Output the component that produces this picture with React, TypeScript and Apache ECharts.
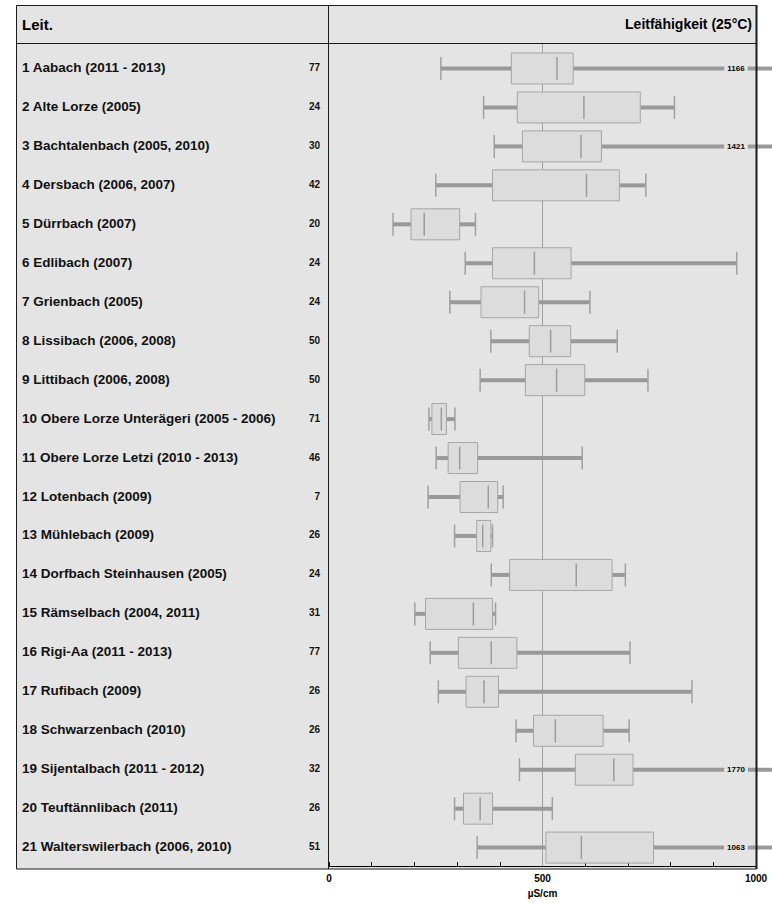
import React, { useEffect, useRef } from "react";
import * as echarts from "echarts";

const categories = [
  "1 Aabach (2011 - 2013)",
  "2 Alte Lorze (2005)",
  "3 Bachtalenbach (2005, 2010)",
  "4 Dersbach (2006, 2007)",
  "5 Dürrbach (2007)",
  "6 Edlibach (2007)",
  "7 Grienbach (2005)",
  "8 Lissibach (2006, 2008)",
  "9 Littibach (2006, 2008)",
  "10 Obere Lorze Unterägeri (2005 - 2006)",
  "11 Obere Lorze Letzi (2010 - 2013)",
  "12 Lotenbach (2009)",
  "13 Mühlebach (2009)",
  "14 Dorfbach Steinhausen (2005)",
  "15 Rämselbach (2004, 2011)",
  "16 Rigi-Aa (2011 - 2013)",
  "17 Rufibach (2009)",
  "18 Schwarzenbach (2010)",
  "19 Sijentalbach (2011 - 2012)",
  "20 Teuftännlibach (2011)",
  "21 Walterswilerbach (2006, 2010)",
];
const counts = [77, 24, 30, 42, 20, 24, 24, 50, 50, 71, 46, 7, 26, 24, 31, 77, 26, 26, 32, 26, 51];
const whiskerLow = [262, 362, 387, 250, 150, 319, 283, 379, 354, 234, 251, 232, 294, 380, 201, 237, 256, 438, 446, 294, 347];
const q1 = [427, 441, 453, 383, 192, 383, 356, 469, 460, 241, 279, 307, 346, 423, 226, 303, 321, 479, 577, 315, 508];
const median = [534, 597, 590, 603, 223, 481, 458, 519, 533, 263, 306, 373, 360, 579, 338, 380, 363, 530, 667, 354, 591];
const q3 = [572, 729, 638, 680, 306, 567, 491, 566, 599, 275, 348, 395, 379, 663, 383, 440, 397, 642, 712, 383, 760];
const whiskerHigh = [1166, 809, 1421, 742, 343, 955, 611, 675, 747, 295, 593, 408, 383, 694, 390, 705, 850, 703, 1770, 523, 1063];

const xTickLabels = [0, 500, 1000];
const referenceValue = [500];
const axisMin = 0;
const axisMax = 1000;
const headerLeft = "Leit.";
const headerRight = "Leitfähigkeit (25°C)";
const unitLabel = "µS/cm";

const FONT = "'Liberation Sans', Arial, Helvetica, sans-serif";
const BG = "#e4e4e4";

export default function App() {
  const ref = useRef<HTMLDivElement>(null);
  useEffect(() => {
    if (!ref.current) return;
    const chart = echarts.init(ref.current, null, { renderer: "svg" });
    const boxData = categories.map((_, i) => [i, whiskerLow[i], q1[i], median[i], q3[i], whiskerHigh[i]]);

    const renderBox = (params: any, api: any) => {
      const idx = api.value(0);
      const lo = api.value(1);
      const a = api.value(2);
      const m = api.value(3);
      const b = api.value(4);
      const hi = api.value(5);
      const y = api.coord([a, idx])[1] + 1;
      const xLo = api.coord([lo, idx])[0];
      const xA = api.coord([a, idx])[0];
      const xM = api.coord([m, idx])[0];
      const xB = api.coord([b, idx])[0];
      const xHi = api.coord([hi, idx])[0];
      const xMax = api.coord([axisMax, idx])[0];
      const boxH = 31;
      const capH = 23;
      const children: any[] = [
        { type: "line", shape: { x1: xLo, y1: y, x2: xA, y2: y }, style: { stroke: "#999999", lineWidth: 4 } },
        { type: "line", shape: { x1: xB, y1: y, x2: xHi, y2: y }, style: { stroke: "#999999", lineWidth: 4 } },
        { type: "line", shape: { x1: xLo, y1: y - capH / 2, x2: xLo, y2: y + capH / 2 }, style: { stroke: "#a0a0a0", lineWidth: 1.5 } },
        {
          type: "rect",
          shape: { x: xA, y: y - boxH / 2, width: xB - xA, height: boxH },
          style: { fill: "#dcdcdc", stroke: "#a6a6a6", lineWidth: 1 },
        },
        { type: "line", shape: { x1: xM, y1: y - capH / 2, x2: xM, y2: y + capH / 2 }, style: { stroke: "#9c9c9c", lineWidth: 1.5 } },
      ];
      if (hi <= axisMax) {
        children.push({ type: "line", shape: { x1: xHi, y1: y - capH / 2, x2: xHi, y2: y + capH / 2 }, style: { stroke: "#a0a0a0", lineWidth: 1.5 } });
      } else {
        children.push({
          type: "text",
          x: xMax - 20,
          y: y,
          style: {
            text: String(hi),
            font: `bold 8px ${FONT}`,
            fill: "#000",
            align: "center",
            verticalAlign: "middle",
            backgroundColor: BG,
            padding: [1, 3],
          },
        });
      }
      return { type: "group", children };
    };

    const renderRef = (params: any, api: any) => {
      const x = api.coord([api.value(0), 0])[0];
      const cs = params.coordSys;
      return {
        type: "line",
        shape: { x1: x, y1: cs.y - 5, x2: x, y2: cs.y + cs.height },
        style: { stroke: "#a0a0a0", lineWidth: 1 },
      };
    };

    chart.setOption({
      animation: false,
      backgroundColor: "#ffffff",
      grid: { left: 329, right: 16, top: 48, bottom: 34, containLabel: false },
      xAxis: {
        type: "value",
        min: axisMin,
        max: axisMax,
        interval: 100,
        name: unitLabel,
        nameLocation: "middle",
        nameGap: 19,
        nameTextStyle: { fontFamily: FONT, fontWeight: "bold", fontSize: 10, color: "#000" },
        axisLine: { show: true, lineStyle: { color: "#000", width: 1 } },
        axisTick: { show: true, inside: true, length: 4, lineStyle: { color: "#000" } },
        splitLine: { show: false },
        axisLabel: {
          margin: 7,
          fontFamily: FONT,
          fontWeight: "bold",
          fontSize: 10,
          color: "#000",
          formatter: (v: number) => (xTickLabels.includes(v) ? String(v) : ""),
        },
      },
      yAxis: [
        {
          type: "category",
          data: categories,
          inverse: true,
          position: "left",
          axisLine: { show: false },
          axisTick: { show: false },
          splitLine: { show: false },
          axisLabel: {
            align: "left",
            margin: 307,
            fontFamily: FONT,
            fontWeight: "bold",
            fontSize: 13.5,
            color: "#111",
            padding: [3, 0, 0, 0],
          },
        },
        {
          type: "category",
          data: categories,
          inverse: true,
          position: "left",
          axisLine: { show: false },
          axisTick: { show: false },
          splitLine: { show: false },
          axisLabel: {
            align: "right",
            margin: 9,
            fontFamily: FONT,
            fontWeight: "bold",
            fontSize: 10,
            color: "#111",
            padding: [3, 0, 0, 0],
            formatter: (_: string, i: number) => String(counts[i]),
          },
        },
      ],
      graphic: [
        { type: "rect", z: -10, shape: { x: 16, y: 5, width: 741, height: 864 }, style: { fill: BG } },
        { type: "rect", z: 50, shape: { x: 16.5, y: 5.5, width: 740, height: 863.5 }, style: { fill: "none", stroke: "#1a1a1a", lineWidth: 1 } },
        { type: "line", z: 50, shape: { x1: 756.5, y1: 5, x2: 756.5, y2: 869 }, style: { stroke: "#1a1a1a", lineWidth: 2 } },
        { type: "line", z: 50, shape: { x1: 16, y1: 43.5, x2: 757, y2: 43.5 }, style: { stroke: "#1a1a1a", lineWidth: 1 } },
        { type: "line", z: 50, shape: { x1: 328.5, y1: 5, x2: 328.5, y2: 869 }, style: { stroke: "#1a1a1a", lineWidth: 1 } },
        {
          type: "text", z: 50, x: 22, y: 24,
          style: { text: headerLeft, font: `bold 15px ${FONT}`, fill: "#000", align: "left", verticalAlign: "middle" },
        },
        {
          type: "text", z: 50, x: 752, y: 24,
          style: { text: headerRight, font: `bold 14px ${FONT}`, fill: "#000", align: "right", verticalAlign: "middle" },
        },
      ],
      series: [
        {
          type: "custom",
          name: "ref",
          z: 1,
          silent: true,
          renderItem: renderRef,
          encode: { x: 0 },
          data: referenceValue.map((v) => [v]),
        },
        {
          type: "custom",
          name: "box",
          z: 3,
          silent: true,
          clip: false,
          renderItem: renderBox,
          encode: { x: [1, 2, 3, 4, 5], y: 0 },
          data: boxData,
        },
      ],
    });
    return () => chart.dispose();
  }, []);
  return <div ref={ref} style={{ position: "fixed", left: 0, top: 0, width: 772, height: 903 }} />;
}
